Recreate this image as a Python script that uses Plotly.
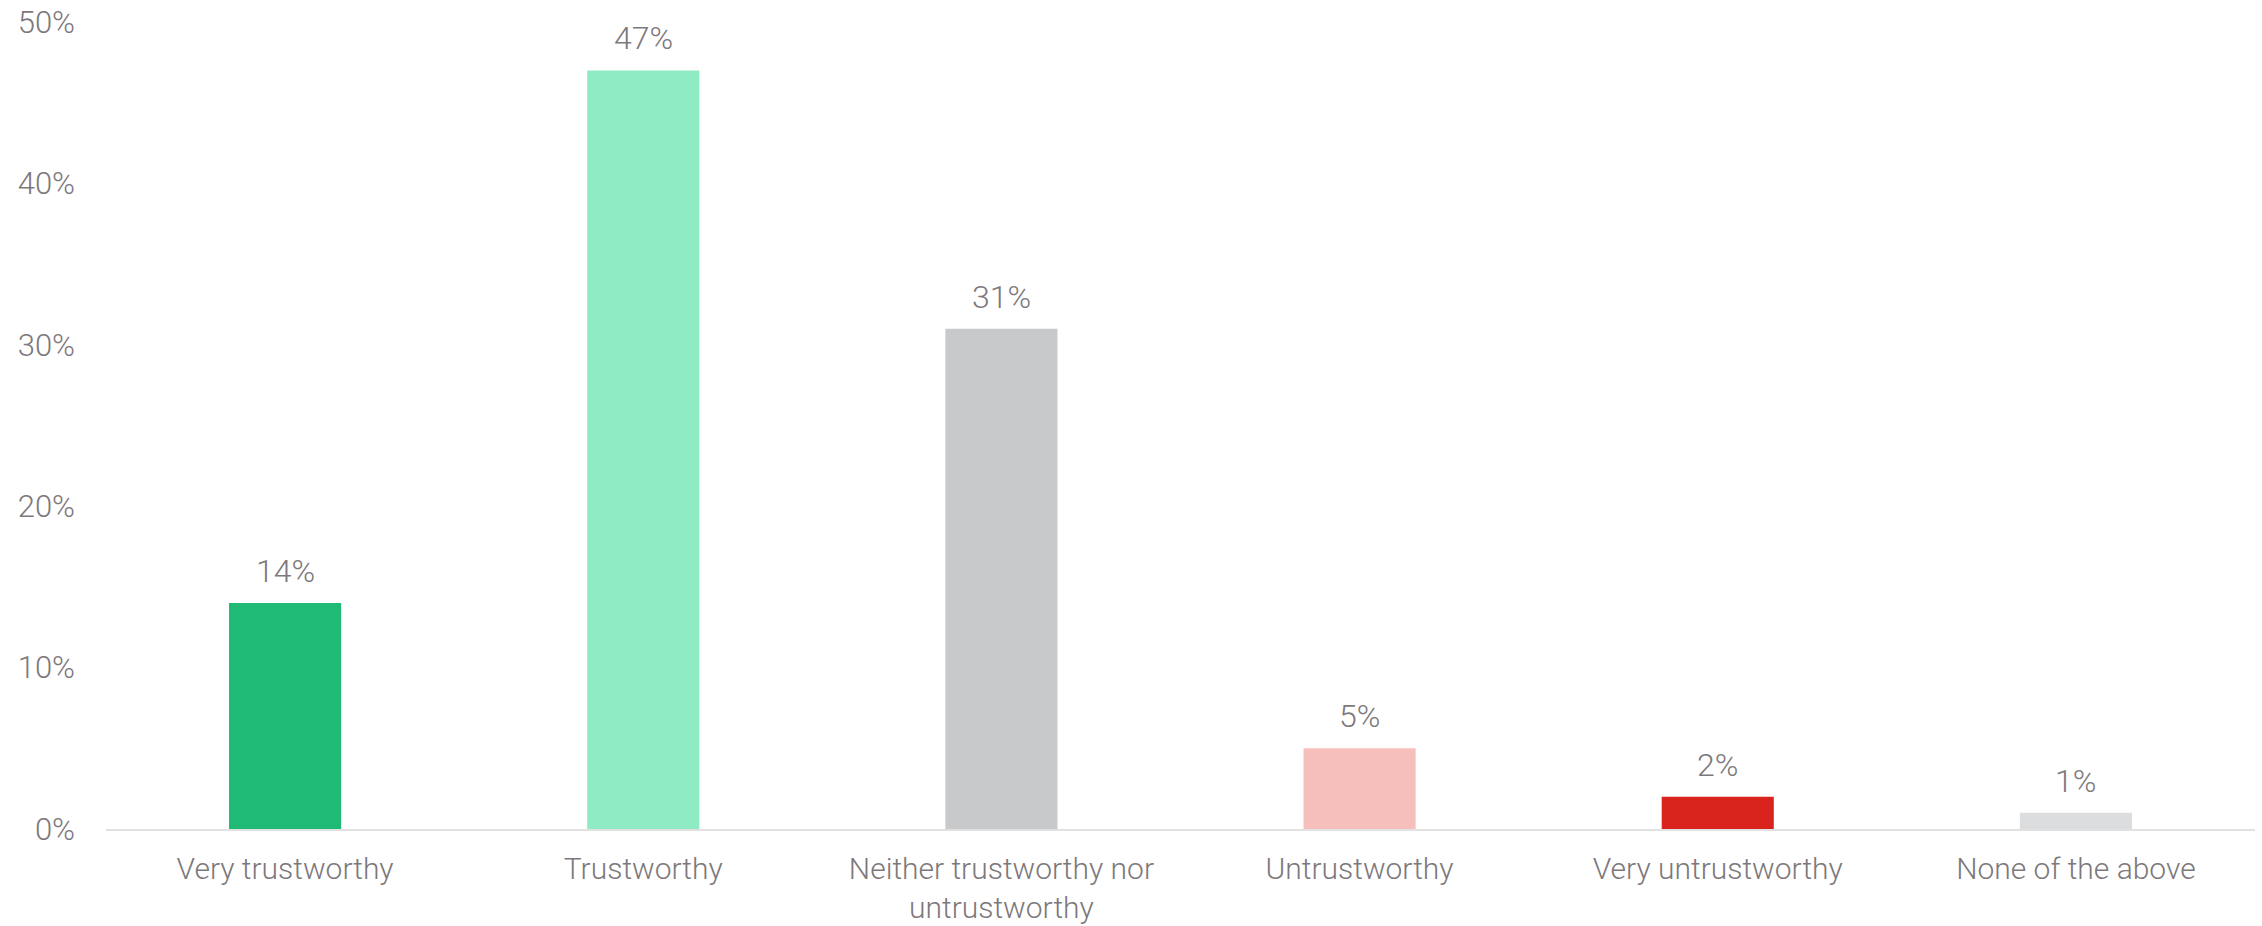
import plotly.graph_objects as go

categories = [
    "Very trustworthy",
    "Trustworthy",
    "Neither trustworthy nor<br>untrustworthy",
    "Untrustworthy",
    "Very untrustworthy",
    "None of the above",
]
values = [14, 47, 31, 5, 2, 1]
bar_colors = ["#1fba76", "#8eebc4", "#c8c9cb", "#f7bfbc", "#d9231d", "#dcdddf"]
y_ticks = [0, 10, 20, 30, 40, 50]

text_color = "#7d787b"
font_family = "Roboto, Liberation Sans, sans-serif"

fig = go.Figure(
    go.Bar(
        x=categories,
        y=values,
        marker=dict(color=bar_colors, line=dict(width=0)),
        width=0.313,
        hoverinfo="skip",
    )
)

# value labels above each bar
for cat, val in zip(categories, values):
    fig.add_annotation(
        x=cat, y=val, text=f"{val}%", showarrow=False,
        yanchor="bottom", yshift=11,
        font=dict(family=font_family, size=32, color=text_color, weight=300),
    )

fig.update_layout(
    width=2262, height=926,
    margin=dict(l=106, r=7, t=22, b=97),
    paper_bgcolor="white", plot_bgcolor="white",
    showlegend=False,
    font=dict(family=font_family, size=30, color=text_color, weight=300),
)
fig.update_xaxes(
    automargin=False,
    showline=True, linecolor="#e1e1e1", linewidth=2,
    showgrid=False, ticks="", ticklabelstandoff=12,
    tickfont=dict(family=font_family, size=30, color=text_color, weight=300),
)
fig.update_yaxes(
    automargin=False,
    range=[0, 50], tickvals=y_ticks, ticktext=[f"{t}%" for t in y_ticks],
    showgrid=False, zeroline=False, showline=False, ticks="",
    ticklabelstandoff=30,
    tickfont=dict(family=font_family, size=31, color=text_color, weight=300),
)

fig.write_html("out.html")
